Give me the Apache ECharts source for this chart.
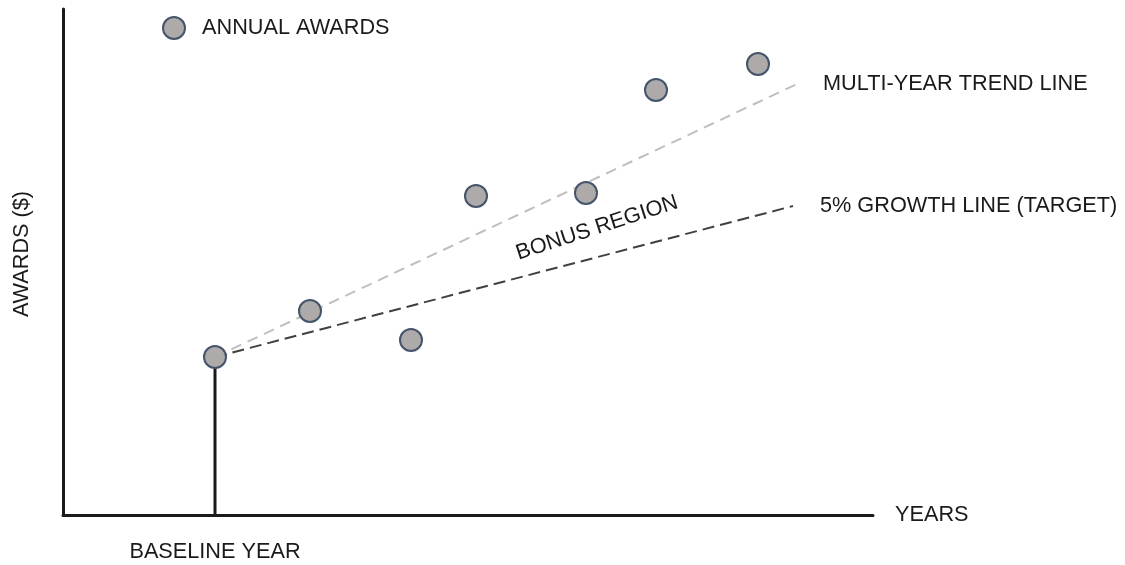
<!DOCTYPE html>
<html>
<head>
<meta charset="utf-8">
<script src="https://cdn.jsdelivr.net/npm/echarts@6/dist/echarts.min.js"></script>
<style>
html,body{margin:0;padding:0;background:#fff;}
#chart{width:1125px;height:565px;}
</style>
</head>
<body>
<div id="chart"></div>
<script>
// Conceptual units (years offset, awards level)
var years = [152, 247, 348, 413, 523, 593, 695];
var awards = [158, 204, 175, 319, 322, 425, 451];
var baselineYear = 152;
var baselineAward = 158;
var trendEnd = [734, 431];
var growthEnd = [730, 309];
var bonusLabelAt = [534, 287];
var labels = {
  points: 'ANNUAL AWARDS',
  trend: 'MULTI-YEAR TREND LINE',
  growth: '5% GROWTH LINE (TARGET)',
  bonus: 'BONUS REGION',
  xName: 'YEARS',
  yName: 'AWARDS ($)',
  baseline: 'BASELINE YEAR'
};

var FONT = 'Liberation Sans';
var TXT = '#1a1a1a';
var FS = 21.7;

var chart = echarts.init(document.getElementById('chart'));
var pts = years.map(function (x, i) { return [x, awards[i]]; });

chart.setOption({
  animation: false,
  backgroundColor: '#fff',
  textStyle: { fontFamily: FONT },
  grid: { left: 63, right: 252, top: 9, bottom: 50, outerBoundsMode: 'none', containLabel: false },
  legend: {
    data: [labels.points],
    left: 157, top: 11,
    icon: 'circle', itemWidth: 22, itemHeight: 22,
    textStyle: { fontSize: FS, color: TXT, fontFamily: FONT, padding: [0, 0, 0, 12] }
  },
  xAxis: {
    type: 'value', min: 0, max: 810,
    name: labels.xName, nameLocation: 'end', nameGap: 22,
    nameTextStyle: { fontSize: FS, color: TXT, fontFamily: FONT },
    axisLine: { show: true, lineStyle: { color: '#1a1a1a', width: 3 } },
    axisTick: { show: false },
    splitLine: { show: false },
    axisLabel: {
      show: true, customValues: [baselineYear], margin: 26,
      fontSize: FS, color: TXT, fontFamily: FONT,
      formatter: function () { return labels.baseline; }
    }
  },
  yAxis: {
    type: 'value', min: 0, max: 506,
    name: labels.yName, nameLocation: 'middle', nameGap: 30,
    nameTextStyle: { fontSize: FS, color: TXT, fontFamily: FONT, padding: [0, 0, 0, 16] },
    axisLine: { show: true, lineStyle: { color: '#1a1a1a', width: 3 } },
    axisTick: { show: false },
    splitLine: { show: false },
    axisLabel: { show: false }
  },
  series: [
    {
      name: 'baseline',
      type: 'line',
      data: [[baselineYear, 0], [baselineYear, baselineAward]],
      symbol: 'none',
      lineStyle: { color: '#1a1a1a', width: 3 },
      z: 2
    },
    {
      name: labels.trend,
      type: 'line',
      data: [[baselineYear, baselineAward], trendEnd],
      symbol: 'none',
      lineStyle: { color: '#bfbfbf', width: 2, type: [11, 7] },
      endLabel: { show: true, distance: 26, formatter: labels.trend, fontSize: FS, color: TXT, fontFamily: FONT },
      z: 2
    },
    {
      name: labels.growth,
      type: 'line',
      data: [[baselineYear, baselineAward], growthEnd],
      symbol: 'none',
      lineStyle: { color: '#404040', width: 2, type: [12, 6] },
      endLabel: { show: true, distance: 27, formatter: labels.growth, fontSize: FS, color: TXT, fontFamily: FONT },
      markPoint: {
        symbol: 'circle', symbolSize: 0,
        data: [{ coord: bonusLabelAt, value: 0 }],
        label: { show: true, position: 'inside', formatter: labels.bonus, rotate: 18, fontSize: FS, color: TXT, fontFamily: FONT }
      },
      z: 2
    },
    {
      name: labels.points,
      type: 'scatter',
      data: pts,
      symbol: 'circle',
      symbolSize: 22,
      itemStyle: { color: '#aeaaaa', borderColor: '#44546a', borderWidth: 2, opacity: 1 },
      z: 5
    }
  ]
});
</script>
</body>
</html>
